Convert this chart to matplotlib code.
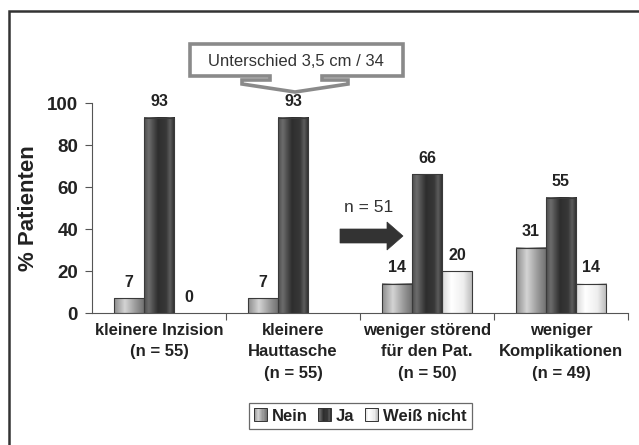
import numpy as np
import matplotlib.pyplot as plt
from matplotlib.colors import LinearSegmentedColormap
from matplotlib.patches import Rectangle, Polygon, FancyArrow
from matplotlib.legend_handler import HandlerBase

plt.rcParams['font.family'] = ['Liberation Sans', 'DejaVu Sans']

categories = ['kleinere Inzision\n(n = 55)', 'kleinere\nHauttasche\n(n = 55)',
              'weniger störend\nfür den Pat.\n(n = 50)', 'weniger\nKomplikationen\n(n = 49)']
series = ['Nein', 'Ja', 'Weiß nicht']
nein = [7, 7, 14, 31]
ja = [93, 93, 66, 55]
weiss = [0, None, 20, 14]
values = [nein, ja, weiss]

# cylinder-like shading for each series, left to right across a bar
shades = {
    'Nein': [(0, '#8c8c8c'), (0.35, '#d4d4d4'), (0.7, '#9a9a9a'), (1, '#6e6e6e')],
    'Ja': [(0, '#4e4e4e'), (0.15, '#6c6c6c'), (0.45, '#2e2e2e'), (0.72, '#383838'),
           (0.85, '#5c5c5c'), (1, '#2a2a2a')],
    'Weiß nicht': [(0, '#d8d8d8'), (0.3, '#ffffff'), (0.7, '#eeeeee'), (1, '#b8b8b8')],
}
cmaps = {k: LinearSegmentedColormap.from_list(k, v) for k, v in shades.items()}
grad = np.linspace(0, 1, 64).reshape(1, -1)

W, H = 639, 445
fig = plt.figure(figsize=(W / 100, H / 100), dpi=100)


def fx(x):
    return x / W


def fy(y):
    return 1 - y / H


ax = fig.add_axes([fx(92), fy(313), fx(628) - fx(92), fy(103) - fy(313)])

width = 0.224
x = np.arange(len(categories))
for i, (name, vals) in enumerate(zip(series, values)):
    for xc, v in zip(x, vals):
        if v is None:
            continue
        left = xc + (i - 1) * width - width / 2
        if v > 0:
            ax.imshow(grad, cmap=cmaps[name], extent=(left, left + width, 0, v),
                      aspect='auto', zorder=2)
            ax.bar(left, v, width=width, align='edge', facecolor='none',
                   edgecolor='#3a3a3a', linewidth=0.8, zorder=3)
        ax.text(left + width / 2, v + 4, str(v), ha='center', va='bottom',
                fontsize=11.5, fontweight='bold', color='#222222')

ax.set_xlim(-0.5, 3.5)
ax.set_ylim(0, 100)
ax.set_yticks(range(0, 101, 20))
ax.tick_params(axis='y', labelsize=13.5, length=5, width=0.8, color='#555555',
               labelcolor='#222222', pad=5)
for lab in ax.get_yticklabels():
    lab.set_fontweight('bold')
ax.set_xticks([0.5, 1.5, 2.5, 3.5])
ax.set_xticklabels([])
ax.set_xticks(x, minor=True)
ax.set_xticklabels(categories, minor=True, fontsize=12, fontweight='bold',
                   color='#222222', linespacing=1.55)
ax.tick_params(axis='x', which='major', length=5, width=0.8, color='#555555')
ax.tick_params(axis='x', which='minor', length=0, pad=7)
for side in ('top', 'right'):
    ax.spines[side].set_visible(False)
for side in ('left', 'bottom'):
    ax.spines[side].set_color('#555555')
    ax.spines[side].set_linewidth(0.8)
ax.set_ylabel('% Patienten', fontsize=16, fontweight='bold', color='#222222',
              labelpad=6)

# outer frame
fig.patches.append(Rectangle((fx(9), fy(455)), fx(650) - fx(9), fy(11) - fy(455),
                             transform=fig.transFigure, fill=False,
                             edgecolor='#333333', linewidth=1.8))

# callout box over the Hauttasche bar
call = [(190, 44), (403, 44), (403, 76), (322, 76), (322, 80), (348, 80), (348, 84),
        (295, 92), (242, 84), (242, 80), (270, 80), (270, 76), (190, 76)]
fig.patches.append(Polygon([(fx(a), fy(b)) for a, b in call], closed=True,
                           transform=fig.transFigure, facecolor='white',
                           edgecolor='#8a8a8a', linewidth=2.6, joinstyle='miter'))
fig.text(fx(296), fy(61), 'Unterschied 3,5 cm / 34', ha='center', va='center',
         fontsize=12, color='#333333')

# block arrow with n = 51
fig.patches.append(FancyArrow(fx(340), fy(236), fx(387) - fx(340), 0,
                              width=fy(228) - fy(242), head_width=fy(222) - fy(250),
                              head_length=fx(403) - fx(387), length_includes_head=False,
                              transform=fig.transFigure, facecolor='#333333',
                              edgecolor='#333333', linewidth=0.5))
fig.text(fx(369), fy(207), 'n = 51', ha='center', va='center', fontsize=12.5,
         color='#333333')


class GradientHandler(HandlerBase):
    def __init__(self, cmap):
        super().__init__()
        self.cmap = cmap

    def create_artists(self, legend, orig_handle, xdescent, ydescent, width, height,
                       fontsize, trans):
        n = 12
        arts = []
        for k in range(n):
            arts.append(Rectangle((-xdescent + width * k / n, -ydescent), width / n,
                                  height, facecolor=self.cmap((k + 0.5) / n),
                                  edgecolor='none', transform=trans))
        arts.append(Rectangle((-xdescent, -ydescent), width, height, fill=False,
                              edgecolor='#333333', linewidth=0.7, transform=trans))
        return arts


handles = [Rectangle((0, 0), 1, 1) for _ in series]
leg = fig.legend(handles, series, loc='center', bbox_to_anchor=(fx(360), fy(416)),
                 ncol=3, frameon=True, fancybox=False, edgecolor='#444444',
                 handlelength=0.8, handleheight=0.8, handletextpad=0.3,
                 columnspacing=0.6, borderpad=0.3,
                 prop={'weight': 'bold', 'size': 12},
                 handler_map={h: GradientHandler(cmaps[s]) for h, s in zip(handles, series)})
leg.get_frame().set_linewidth(0.9)
for t in leg.get_texts():
    t.set_color('#222222')

fig.savefig('out.png', dpi=100)
